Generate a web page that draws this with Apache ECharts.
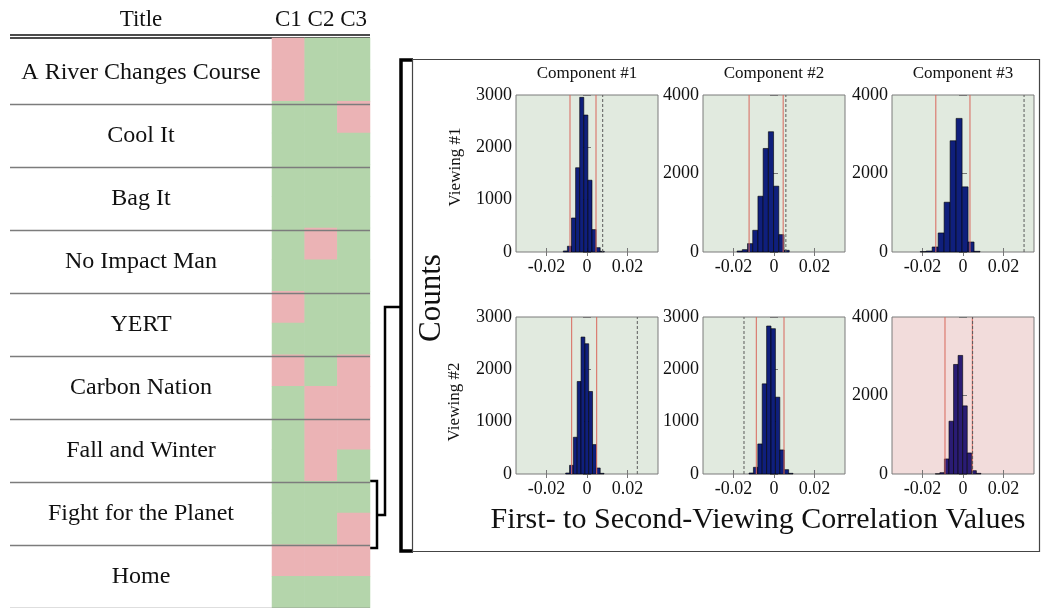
<!DOCTYPE html>
<html><head><meta charset="utf-8">
<script src="https://cdn.jsdelivr.net/npm/echarts@6/dist/echarts.min.js"></script>
<style>html,body{margin:0;padding:0;background:#fff}#c{width:1043px;height:608px}</style>
</head><body><div id="c"></div><script>
// ---------- DATA ----------
const titles = ['A River Changes Course','Cool It','Bag It','No Impact Man','YERT','Carbon Nation','Fall and Winter','Fight for the Planet','Home'];
const components = ['C1','C2','C3'];
const viewings = ['Viewing #1','Viewing #2'];
// one entry per title x viewing row (V1, V2 for each title); 1 = red cell, 0 = green cell
const sigC1 = [1,1, 0,0, 0,0, 0,0, 1,0, 1,0, 0,0, 0,0, 1,0];
const sigC2 = [0,0, 0,0, 0,0, 1,0, 0,0, 0,1, 1,1, 0,0, 1,0];
const sigC3 = [0,0, 1,0, 0,0, 0,0, 0,0, 1,1, 1,0, 0,1, 1,0];

const panelTitles = ['Component #1','Component #2','Component #3'];
const xTickValues = [-0.02, 0, 0.02];
// histogram panels, row-major: V1C1, V1C2, V1C3, V2C1, V2C2, V2C3 (film: Fight for the Planet)
const countsV1C1 = [20, 110, 650, 1610, 2955, 2617, 1372, 428, 83, 13];
const countsV1C2 = [25, 60, 213, 553, 1421, 2638, 3064, 1677, 443, 43];
const countsV1C3 = [10, 25, 128, 485, 1268, 2834, 3404, 1660, 255, 17];
const countsV2C1 = [19, 166, 702, 1768, 2617, 2489, 1577, 562, 115, 13];
const countsV2C2 = [19, 128, 574, 1723, 2828, 2777, 1468, 460, 83, 13];
const countsV2C3 = [5, 34, 383, 1345, 2791, 3021, 1736, 536, 85, 17];
const binStart = [-0.01168, -0.0182, -0.0211, -0.0105, -0.01232, -0.01366];
const binWidth = [0.00202, 0.00257, 0.00295, 0.00189, 0.00217, 0.00225];
const lowThresh  = [-0.00838, -0.01228, -0.0134, -0.00755, -0.00872, -0.00888];
const highThresh = [0.00444, 0.00452, 0.00344, 0.00478, 0.00493, 0.0046];
const observed   = [0.00774, 0.00585, 0.0301, 0.0248, -0.01479, 0.00473];
const yMaxes = [3000, 4000, 4000, 3000, 3000, 4000];
const yIntervals = [1000, 2000, 2000, 1000, 1000, 2000];
const xRange = [-0.035, 0.035];
const highlightRow = 14; // Fight for the Planet, Viewing #1 row index

// ---------- STYLE / LAYOUT ----------
const FONT = 'Liberation Serif';
const GREEN = '#b4d5ab', PINK = '#ebb3b5';
const BG_GREEN = '#e1eadf', BG_PINK = '#f2dcdb';
const BAR = '#0f1f7c', BAR_PINK = '#2a1c74';
const RED = '#d9675c';
const panelLeft = [516, 703, 892], panelTop = [95, 317], panelW = 142, panelH = 157;

const sigByComp = [sigC1, sigC2, sigC3];
const rowNames = [];
titles.forEach(t => viewings.forEach(v => rowNames.push(t + ' / ' + v)));
const heatData = [];
sigByComp.forEach((arr, c) => arr.forEach((v, r) => heatData.push([c, r, v])));

const countsAll = [countsV1C1, countsV1C2, countsV1C3, countsV2C1, countsV2C2, countsV2C3];
const plain = v => String(v);

const grids = [
  {left: 10, width: 360, top: 41, height: 567, show: false},
  {left: 272, width: 98, top: 38, height: 570, show: false}
];
const xAxes = [
  {gridIndex: 0, type: 'value', show: false},
  {gridIndex: 1, type: 'category', data: components, position: 'top',
   axisLine: {show: false}, axisTick: {show: false},
   axisLabel: {interval: 0, hideOverlap: false, fontFamily: FONT, fontSize: 23, color: '#111', margin: 7}}
];
const yAxes = [
  {gridIndex: 0, type: 'category', data: titles, inverse: true, z: 10,
   axisLine: {show: false}, axisTick: {show: false},
   axisLabel: {interval: 0, fontFamily: FONT, fontSize: 24, color: '#111', margin: -131, align: 'center'},
   splitLine: {show: true, interval: (i) => i > 0, lineStyle: {color: '#7c7c7c', width: 1.3}}},
  {gridIndex: 1, type: 'category', data: rowNames, inverse: true, show: false}
];
const series = [{
  type: 'heatmap', xAxisIndex: 1, yAxisIndex: 1, data: heatData,
  itemStyle: {borderWidth: 0}, emphasis: {disabled: true}
}];
const graphics = [];

for (let p = 0; p < 6; p++) {
  const row = Math.floor(p / 3), col = p % 3;
  const gi = grids.length;
  const highlighted = sigByComp[col][highlightRow + row] === 1;
  grids.push({left: panelLeft[col], top: panelTop[row], width: panelW, height: panelH,
    show: true, backgroundColor: highlighted ? BG_PINK : BG_GREEN, borderColor: '#7a7a7a', borderWidth: 1});
  const xi = xAxes.length, yi = yAxes.length;
  const common = {min: xRange[0], max: xRange[1], gridIndex: gi, type: 'value', splitLine: {show: false},
    axisLine: {show: false}};
  xAxes.push(Object.assign({}, common, {position: 'bottom',
    axisTick: {inside: true, length: 4, customValues: xTickValues, lineStyle: {color: '#777'}},
    axisLabel: {customValues: xTickValues, formatter: plain, fontFamily: FONT, fontSize: 18, color: '#111', margin: 6}}));
  xAxes.push(Object.assign({}, common, {position: 'top',
    axisTick: {inside: true, length: 4, customValues: xTickValues, lineStyle: {color: '#777'}},
    axisLabel: {show: false}}));
  const ycommon = {gridIndex: gi, type: 'value', min: 0, max: yMaxes[p], interval: yIntervals[p],
    splitLine: {show: false}, axisLine: {show: false}};
  yAxes.push(Object.assign({}, ycommon, {position: 'left',
    axisTick: {inside: true, length: 4, lineStyle: {color: '#777'}},
    axisLabel: {formatter: plain, fontFamily: FONT, fontSize: 18, color: '#111', margin: 4}}));
  yAxes.push(Object.assign({}, ycommon, {position: 'right',
    axisTick: {inside: true, length: 4, lineStyle: {color: '#777'}},
    axisLabel: {show: false}}));

  const bins = countsAll[p].map((c, k) => [binStart[p] + k * binWidth[p], binStart[p] + (k + 1) * binWidth[p], c]);
  const fill = highlighted ? BAR_PINK : BAR;
  series.push({
    type: 'custom', xAxisIndex: xi, yAxisIndex: yi, data: bins, z: 2,
    encode: {x: [0, 1], y: 2},
    renderItem: (params, api) => {
      const a = api.coord([api.value(0), api.value(2)]);
      const b = api.coord([api.value(1), 0]);
      return {type: 'rect', shape: {x: a[0], y: a[1], width: b[0] - a[0], height: b[1] - a[1]},
        style: {fill: fill, stroke: '#000', lineWidth: 0.6}};
    }
  });
  [[lowThresh[p], RED, 'solid'], [highThresh[p], RED, 'solid'], [observed[p], '#5a5a5a', [3, 2]]].forEach(([v, color, type]) => {
    series.push({type: 'line', xAxisIndex: xi, yAxisIndex: yi, z: 3, symbol: 'none', silent: true,
      data: [[v, 0], [v, yMaxes[p]]], lineStyle: {color: color, width: 1, type: type}});
  });
  if (row === 0) {
    graphics.push({type: 'text', x: panelLeft[col] + panelW / 2, y: 74,
      style: {text: panelTitles[col], font: '17px "' + FONT + '"', fill: '#111', align: 'center', verticalAlign: 'middle'}});
  }
}

graphics.push(
  {type: 'text', x: 141, y: 20, style: {text: 'Title', font: '23px "' + FONT + '"', fill: '#111', align: 'center', verticalAlign: 'middle'}},
  {type: 'line', shape: {x1: 10, y1: 35, x2: 370, y2: 35}, style: {stroke: '#111', lineWidth: 1.3}},
  {type: 'line', shape: {x1: 10, y1: 38, x2: 370, y2: 38}, style: {stroke: '#111', lineWidth: 1.3}},
  {type: 'polyline', shape: {points: [[370, 481], [377, 481], [377, 548], [370, 548]]}, style: {stroke: '#000', lineWidth: 2.5, fill: null}},
  {type: 'polyline', shape: {points: [[377, 515], [385, 515], [385, 307], [401, 307]]}, style: {stroke: '#000', lineWidth: 2.5, fill: null}},
  {type: 'polyline', shape: {points: [[413, 60], [401, 60], [401, 551], [413, 551]]}, style: {stroke: '#000', lineWidth: 3.5, fill: null}},
  {type: 'rect', shape: {x: 412.5, y: 59.5, width: 627, height: 492}, style: {stroke: '#444', lineWidth: 1.2, fill: null}},
  {type: 'text', x: 456, y: 167, rotation: Math.PI / 2, style: {text: viewings[0], font: '17px "' + FONT + '"', fill: '#111', align: 'center', verticalAlign: 'middle'}},
  {type: 'text', x: 455, y: 402, rotation: Math.PI / 2, style: {text: viewings[1], font: '17px "' + FONT + '"', fill: '#111', align: 'center', verticalAlign: 'middle'}},
  {type: 'text', x: 432, y: 298, rotation: Math.PI / 2, style: {text: 'Counts', font: '31px "' + FONT + '"', fill: '#111', align: 'center', verticalAlign: 'middle'}},
  {type: 'text', x: 758, y: 520, style: {text: 'First- to Second-Viewing Correlation Values', font: '30px "' + FONT + '"', fill: '#111', align: 'center', verticalAlign: 'middle'}}
);

const chart = echarts.init(document.getElementById('c'), null, {renderer: 'canvas'});
chart.setOption({
  animation: false,
  backgroundColor: '#fff',
  grid: grids, xAxis: xAxes, yAxis: yAxes,
  visualMap: {type: 'piecewise', show: false, seriesIndex: 0, dimension: 2,
    pieces: [{value: 0, color: GREEN}, {value: 1, color: PINK}]},
  series: series,
  graphic: graphics
});
</script></body></html>
